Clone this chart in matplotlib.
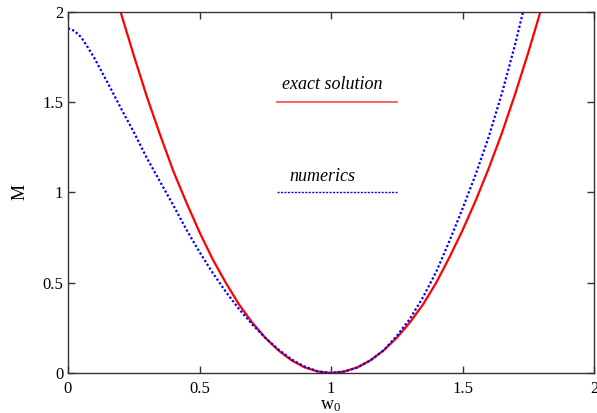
import numpy as np
import matplotlib.pyplot as plt

plt.rcParams['font.family'] = 'Liberation Serif'
plt.rcParams['mathtext.fontset'] = 'custom'
plt.rcParams['mathtext.rm'] = 'Liberation Serif'
plt.rcParams['mathtext.default'] = 'regular'

# exact solution
w_exact = [0.2, 0.25, 0.3, 0.35, 0.4, 0.45, 0.5, 0.55, 0.6, 0.65, 0.7, 0.75, 0.8, 0.85, 0.9, 0.95, 1.0,
           1.05, 1.1, 1.15, 1.2, 1.25, 1.3, 1.35, 1.4, 1.45, 1.5, 1.55, 1.6, 1.65, 1.7, 1.75, 1.8]
M_exact = [2.0, 1.76, 1.53, 1.32, 1.12, 0.945, 0.78, 0.63, 0.50, 0.38, 0.28, 0.195, 0.125, 0.07, 0.031, 0.008, 0.0,
           0.008, 0.031, 0.07, 0.125, 0.195, 0.28, 0.38, 0.50, 0.64, 0.79, 0.955, 1.135, 1.33, 1.545, 1.775, 2.02]

# numerics
w_num = [0.0, 0.025, 0.05, 0.075, 0.1, 0.15, 0.2, 0.25, 0.3, 0.35, 0.4, 0.45, 0.5, 0.55, 0.6, 0.65, 0.7, 0.75, 0.8, 0.85, 0.9, 0.95, 1.0,
         1.05, 1.1, 1.15, 1.2, 1.25, 1.3, 1.35, 1.4, 1.45, 1.5, 1.55, 1.6, 1.65, 1.7, 1.73]
M_num = [1.91, 1.895, 1.86, 1.805, 1.745, 1.61, 1.47, 1.335, 1.19, 1.06, 0.93, 0.795, 0.67, 0.555, 0.45, 0.355, 0.27, 0.195, 0.13, 0.075, 0.035, 0.009, 0.0,
         0.008, 0.03, 0.07, 0.125, 0.205, 0.30, 0.42, 0.56, 0.73, 0.91, 1.10, 1.31, 1.55, 1.82, 2.0]

ticks = [0, 0.5, 1, 1.5, 2]
tick_labels = ['0', '0.5', '1', '1.5', '2']

fig = plt.figure(figsize=(5.97, 4.13), dpi=100)
ax = fig.add_axes([0.1139, 0.0969, 0.8811, 0.8741])

ax.plot(w_exact, M_exact, color='red', lw=1.6, solid_capstyle='butt')
ax.plot(w_num, M_num, color='blue', lw=1.6, linestyle=(0, (1, 1)))

# legend, drawn by hand (text above the sample line)
ax.plot([0.795, 1.25], [1.5, 1.5], color='#ff5555', lw=1.3)
ax.plot([0.795, 1.25], [1.0, 1.0], color='blue', lw=1.0, linestyle=(0, (1.5, 1)))
ax.text(0.815, 1.6, 'exact solution', style='italic', fontsize=13, ha='left', va='center')
ax.text(0.84, 1.09, 'numerics', style='italic', fontsize=13, ha='left', va='center')

ax.set_xlim(0, 2)
ax.set_ylim(0, 2)
ax.set_xticks(ticks)
ax.set_xticklabels(tick_labels)
ax.set_yticks(ticks)
ax.set_yticklabels(tick_labels)
ax.tick_params(direction='in', length=5, top=True, right=True, labelsize=12, width=1, color='#333333')
ax.tick_params(axis='x', pad=6)
for s in ax.spines.values():
    s.set_color('#333333')
    s.set_linewidth(1.0)

ax.set_xlabel('w$_0$', fontsize=13, labelpad=0)
ax.set_ylabel('M', fontsize=13, labelpad=10)

fig.savefig('out.png', dpi=100)
